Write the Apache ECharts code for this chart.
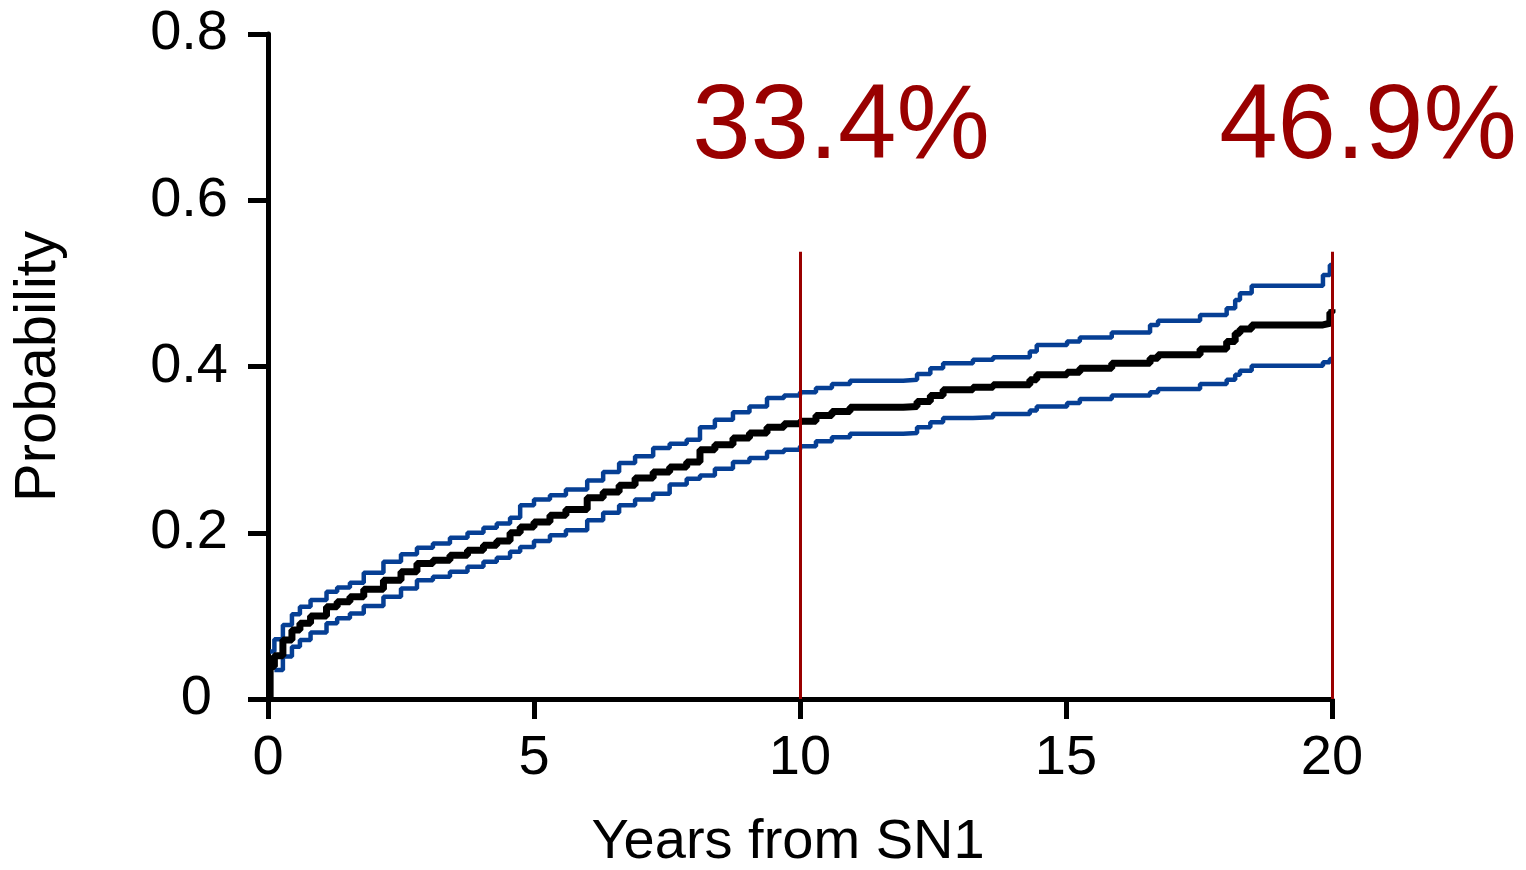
<!DOCTYPE html>
<html>
<head>
<meta charset="utf-8">
<script src="https://cdn.jsdelivr.net/npm/echarts@6/dist/echarts.min.js"></script>
<style>
  html, body { margin: 0; padding: 0; background: #fff; }
  #chart { width: 1526px; height: 870px; }
</style>
</head>
<body>
<div id="chart"></div>
<script>
// years from SN1
const years = [0, 0.04, 0.12, 0.28, 0.45, 0.6, 0.8, 1.1, 1.3, 1.54, 1.8, 2.17, 2.5, 2.8, 3.1, 3.42, 3.75, 4.05, 4.3, 4.55,
  4.74, 5.0, 5.3, 5.6, 6.0, 6.3, 6.6, 6.9, 7.24, 7.55, 7.87, 8.12, 8.4, 8.74, 9.05, 9.38, 9.7, 10.0, 10.3, 10.6,
  10.94, 11.94, 12.2, 12.45, 12.69, 13.25, 13.63, 14.32, 14.45, 15.02, 15.26, 15.86, 16.58, 16.73, 17.52, 18.02,
  18.18, 18.27, 18.49, 19.83, 19.96, 20.0]

// cumulative incidence estimate
const estimate = [0, 0.039, 0.052, 0.071, 0.083, 0.091, 0.1, 0.111, 0.117, 0.123, 0.132, 0.143, 0.153, 0.163, 0.167, 0.173, 0.179, 0.185, 0.19, 0.2,
  0.207, 0.213, 0.221, 0.228, 0.242, 0.249, 0.257, 0.266, 0.273, 0.279, 0.285, 0.3, 0.306, 0.314, 0.32, 0.327, 0.331, 0.334, 0.341, 0.346,
  0.351, 0.352, 0.358, 0.365, 0.372, 0.375, 0.378, 0.384, 0.39, 0.393, 0.398, 0.404, 0.41, 0.414, 0.421, 0.43,
  0.44, 0.445, 0.45, 0.452, 0.465, 0.469]

// 95% confidence band
const upperCI = [null, 0.057, 0.072, 0.089, 0.102, 0.111, 0.119, 0.129, 0.134, 0.14, 0.152, 0.165, 0.174, 0.182, 0.187, 0.194, 0.2, 0.206, 0.211, 0.218,
  0.233, 0.24, 0.245, 0.252, 0.263, 0.273, 0.284, 0.292, 0.302, 0.307, 0.312, 0.327, 0.336, 0.345, 0.352, 0.362, 0.365, 0.369, 0.374, 0.379,
  0.383, 0.384, 0.391, 0.398, 0.404, 0.408, 0.411, 0.418, 0.426, 0.43, 0.435, 0.441, 0.45, 0.455, 0.462, 0.47,
  0.48, 0.488, 0.497, 0.51, 0.522, 0.522]

const lowerCI = [null, null, 0.035, 0.051, 0.063, 0.071, 0.08, 0.091, 0.097, 0.103, 0.112, 0.123, 0.133, 0.143, 0.147, 0.153, 0.159, 0.165, 0.17, 0.177,
  0.183, 0.19, 0.197, 0.203, 0.215, 0.224, 0.233, 0.24, 0.247, 0.258, 0.265, 0.269, 0.277, 0.285, 0.29, 0.297, 0.3, 0.304, 0.31, 0.315,
  0.319, 0.32, 0.327, 0.333, 0.338, 0.339, 0.343, 0.347, 0.352, 0.356, 0.361, 0.365, 0.369, 0.373, 0.379, 0.384,
  0.39, 0.395, 0.401, 0.405, 0.409, 0.409]

// highlighted time points
const markYears = [10, 20]
const markLabels = ['33.4%', '46.9%']
const markLineTop = 0.538
const markLabelY = 0.686

const font = "'Liberation Sans', Arial, sans-serif"
const red = '#990000'
const blue = '#063f94'

const pairs = vals => years.map((t, i) => [t, vals[i]])

const chart = echarts.init(document.getElementById('chart'))

chart.setOption({
  animation: false,
  grid: { left: 268, right: 194, top: 34, bottom: 171, outerBoundsMode: 'none' },
  xAxis: {
    type: 'value',
    min: 0,
    max: 20,
    interval: 5,
    name: 'Years from SN1',
    nameLocation: 'middle',
    nameGap: 116,
    nameTextStyle: { fontFamily: font, fontSize: 56, color: '#000', padding: [0, 24, 0, 0] },
    axisLine: { lineStyle: { color: '#000', width: 5 } },
    axisTick: { length: 20, lineStyle: { color: '#000', width: 5 } },
    axisLabel: { fontFamily: font, fontSize: 56, color: '#000', margin: 32 },
    splitLine: { show: false }
  },
  yAxis: {
    type: 'value',
    min: 0,
    max: 0.8,
    interval: 0.2,
    name: 'Probability',
    nameLocation: 'middle',
    nameGap: 200,
    nameRotate: 90,
    nameTextStyle: { fontFamily: font, fontSize: 58, color: '#000' },
    axisLine: { show: true, lineStyle: { color: '#000', width: 5 } },
    axisTick: { show: true, length: 20, lineStyle: { color: '#000', width: 5 } },
    axisLabel: {
      fontFamily: font, fontSize: 56, color: '#000', margin: 40,
      formatter: v => v === 0 ? '{z|0}' : v.toFixed(1),
      rich: { z: { fontFamily: font, fontSize: 56, color: '#000', padding: [0, 16, 0, 0] } }
    },
    splitLine: { show: false }
  },
  series: [
    {
      type: 'line',
      step: 'end',
      data: pairs(upperCI),
      symbol: 'none',
      lineStyle: { color: blue, width: 4.5 },
      z: 2
    },
    {
      type: 'line',
      step: 'end',
      data: pairs(lowerCI),
      symbol: 'none',
      lineStyle: { color: blue, width: 4.5 },
      z: 2
    },
    {
      type: 'line',
      step: 'end',
      data: pairs(estimate),
      symbol: 'none',
      lineStyle: { color: '#000', width: 7 },
      z: 3,
      markLine: {
        silent: true,
        symbol: 'none',
        label: { show: false },
        lineStyle: { color: red, width: 3, type: 'solid' },
        data: markYears.map(t => [{ coord: [t, 0] }, { coord: [t, markLineTop] }])
      },
      markPoint: {
        silent: true,
        symbol: 'circle',
        symbolSize: 1,
        itemStyle: { color: 'rgba(0,0,0,0)' },
        data: markYears.map((t, i) => ({
          coord: [t, markLabelY],
          value: markLabels[i],
          label: {
            show: true,
            position: 'inside',
            formatter: markLabels[i],
            fontFamily: font,
            fontSize: 105,
            color: red,
            offset: [i === 0 ? 41 : 36, 0]
          }
        }))
      }
    }
  ]
})
</script>
</body>
</html>
